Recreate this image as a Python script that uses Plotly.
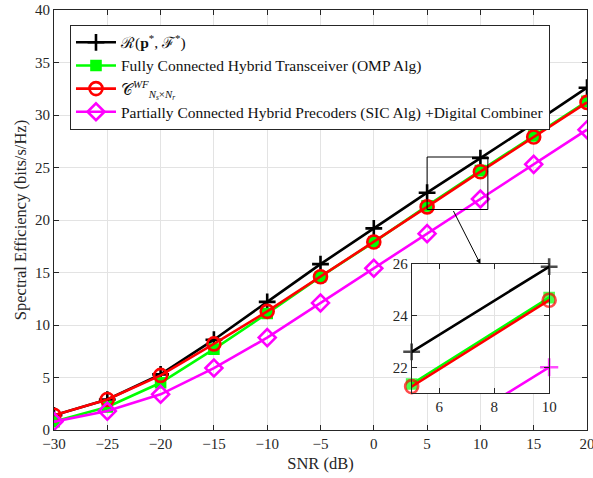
import plotly.graph_objects as go

snr = [-30, -25, -20, -15, -10, -5, 0, 5, 10, 15, 20]
rate_opt = [1.4, 2.9, 5.3, 8.6, 12.2, 15.8, 19.2, 22.6, 25.9, 29.2, 32.6]
rate_omp = [0.8, 2.2, 4.5, 7.7, 11.1, 14.6, 17.9, 21.35, 24.7, 28.0, 31.3]
rate_wf = [1.4, 2.9, 5.2, 8.2, 11.3, 14.6, 17.9, 21.25, 24.6, 27.9, 31.2]
rate_sic = [0.8, 1.8, 3.4, 5.9, 8.8, 12.1, 15.4, 18.7, 22.0, 25.3, 28.6]

names = [
    "ℛ(<b>p</b><sup>*</sup>, ℱ<sup>*</sup>)",
    "Fully Connected Hybrid Transceiver (OMP Alg)",
    "𝒞<sup><i>WF</i></sup><sub><i>N<sub>s</sub></i>×<i>N<sub>r</sub></i></sub>",
    "Partially Connected Hybrid Precoders (SIC Alg) +Digital Combiner",
]
series = [rate_opt, rate_omp, rate_wf, rate_sic]
colors = ["#000000", "#00FF00", "#FF0000", "#FF00FF"]
symbols = ["cross-thin", "square", "circle-open", "diamond-open"]
sizes = [12, 9, 13, 13]
inset_symbols = ["cross-thin", "square", "circle-open", "cross-thin"]

font = "Liberation Serif"
axcol = "#262626"

fig = go.Figure()
for s, c, sym, sz, nm in zip(series, colors, symbols, sizes, names):
    fig.add_trace(go.Scatter(
        x=snr, y=s, mode="lines+markers", name=nm,
        line=dict(color=c, width=2.6),
        marker=dict(symbol=sym, size=sz, color=c,
                    line=dict(color=c, width=2.6)),
        xaxis="x", yaxis="y",
    ))
for s, c, sym, sz in zip(series, colors, inset_symbols, sizes):
    vis = [sz if (5 <= xv <= 10 and 21 <= yv <= 26) else 0 for xv, yv in zip(snr, s)]
    fig.add_trace(go.Scatter(
        x=snr, y=s, mode="lines+markers", showlegend=False, cliponaxis=False,
        line=dict(color=c, width=2.6),
        marker=dict(symbol=sym, size=vis, color=c,
                    line=dict(color=c, width=2.6)),
        xaxis="x2", yaxis="y2",
    ))

common = dict(showline=True, linecolor=axcol, linewidth=1, mirror="ticks",
              ticks="inside", ticklen=5, tickcolor=axcol, automargin=False,
              ticklabeloverflow="allow",
              showgrid=True, gridcolor="#e3e3e3", gridwidth=1, zeroline=False,
              tickfont=dict(family=font, size=15, color=axcol))

fig.update_layout(
    width=593, height=478,
    margin=dict(l=54, r=6, t=10, b=48),
    paper_bgcolor="white", plot_bgcolor="white",
    font=dict(family=font, color=axcol),
    xaxis=dict(range=[-30, 20], dtick=5, domain=[0, 1],
               title=dict(text="SNR (dB)", font=dict(family=font, size=16.5, color=axcol), standoff=6),
               **common),
    yaxis=dict(range=[0, 40], dtick=5, domain=[0, 1],
               title=dict(text="Spectral Efficiency (bits/s/Hz)", font=dict(family=font, size=16.5, color=axcol), standoff=4),
               **common),
    xaxis2=dict(range=[5, 10], tick0=0, dtick=2, domain=[0.671, 0.929], anchor="y2",
                **common),
    yaxis2=dict(range=[21, 26], tick0=0, dtick=2, domain=[0.088, 0.395], anchor="x2",
                **common),
    legend=dict(x=0.03, y=0.965, xanchor="left", yanchor="top",
                bgcolor="white", bordercolor="#262626", borderwidth=1,
                font=dict(family=font, size=15.5, color="#111111"),
                tracegroupgap=0, itemwidth=40),
    showlegend=True,
)

fig.add_shape(type="rect", xref="x2 domain", yref="y2 domain", x0=0, x1=1, y0=0, y1=1,
              fillcolor="white", line=dict(width=0), layer="below")
fig.add_shape(type="rect", xref="x", yref="y", x0=5, x1=10.7, y0=21, y1=26,
              line=dict(color="black", width=1), layer="above")
fig.add_annotation(x=10, y=15.8, ax=7.4, ay=21, xref="x", yref="y", axref="x", ayref="y",
                   showarrow=True, arrowhead=2, arrowsize=1, arrowwidth=1, arrowcolor="black", text="")

fig.write_html("out.html")
